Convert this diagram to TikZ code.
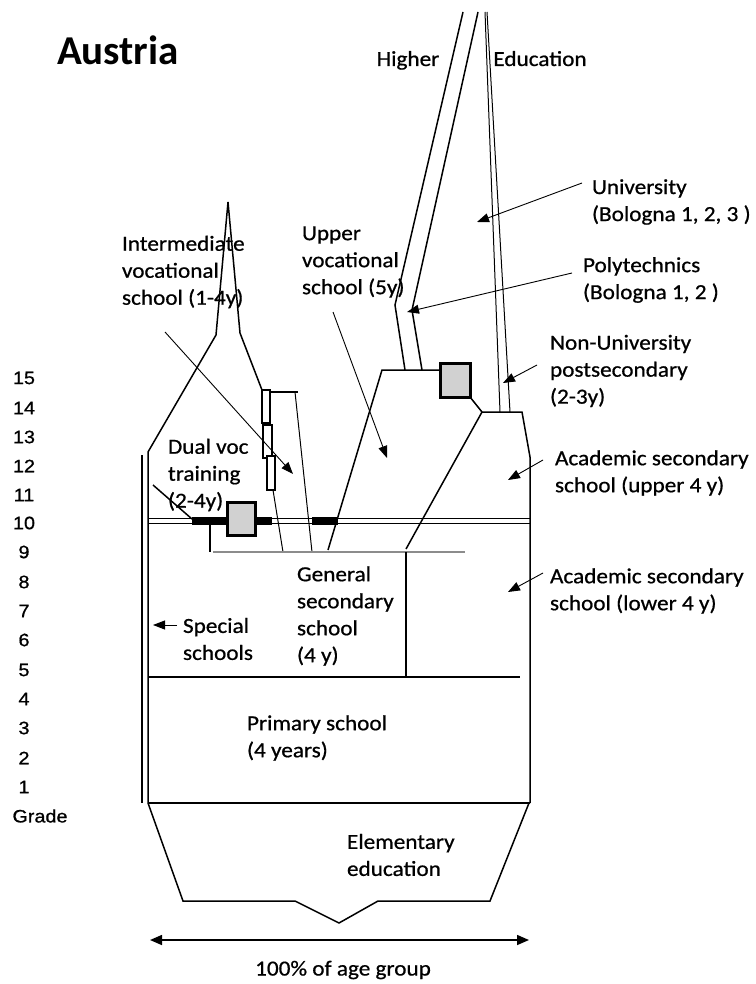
\documentclass[tikz,border=0pt]{standalone}
\usepackage{fontspec}
\setmainfont{Carlito}[FakeStretch=1.08,FakeBold=0.7]
\newfontfamily\titlefont{Carlito}
\newfontfamily\gradefont{Liberation Sans}[FakeStretch=1.1,FakeBold=0.8]
\usetikzlibrary{arrows.meta,positioning}

\begin{document}
\begin{tikzpicture}[x=1pt,y=-1pt,line join=miter]
	\tikzstyle{every node}=[inner sep=0pt,outer sep=0pt]
	\tikzstyle{lbl}=[align=left,anchor=west,font=\fontsize{21.5}{27}\selectfont]
	\tikzstyle{grade}=[font=\gradefont\fontsize{18}{20}\selectfont]
	\tikzstyle{outline}=[line width=1.5pt]
	\tikzstyle{thinline}=[line width=1pt]
	\tikzstyle{pointer}=[line width=0.9pt,-{Triangle[length=12pt,width=9pt]}]
	\tikzstyle{greybox}=[line width=3pt,fill=black!18]
	\tikzstyle{slot}=[line width=2.4pt,fill=white]

	\useasboundingbox (0,0) rectangle (755,984);

	% grades
	\node[grade] (g15) at (24,378) {15};
	\node[grade] (g14) at (24,408) {14};
	\node[grade] (g13) at (24,437) {13};
	\node[grade] (g12) at (24,466) {12};
	\node[grade] (g11) at (24,495) {11};
	\node[grade] (g10) at (24,523) {10};
	\node[grade] (g9) at (24,552) {9};
	\node[grade] (g8) at (24,582) {8};
	\node[grade] (g7) at (24,611) {7};
	\node[grade] (g6) at (24,640) {6};
	\node[grade] (g5) at (24,670) {5};
	\node[grade] (g4) at (24,699) {4};
	\node[grade] (g3) at (24,728) {3};
	\node[grade] (g2) at (24,758) {2};
	\node[grade] (g1) at (24,787) {1};
	\node[grade] (grade) at (40,816) {Grade};

	% outline
	\draw[outline] (142,455) -- (142,803);
	\draw[outline] (148,803) -- (148,452) -- (216,335) -- (228,202) -- (240,333) -- (262,390);
	\draw[outline] (270,392) -- (298,392);
	\draw[thinline] (295,392) -- (312,552);
	\draw[thinline] (273,490) -- (283,552);
	\draw[slot] (262,390) rectangle (270,423);
	\draw[slot] (263,425) rectangle (272,458);
	\draw[slot] (267,456) rectangle (275,490);

	\draw[thinline] (148,518) -- (530,518);
	\draw[thinline] (148,523) -- (530,523);
	\fill (192,516.5) rectangle (227,524.5);
	\fill (255,516.5) rectangle (272,524.5);
	\fill (312,516.5) rectangle (338,524.5);
	\draw[outline] (153,485) -- (192,519);
	\draw[greybox] (227,502) rectangle (255,535);
	\draw[outline] (210,522) -- (210,552);
	\draw[line width=2.5pt,black!45] (213,552) -- (465,552);

	\draw[outline] (328,550) -- (382,370) -- (440,370);
	\draw[outline] (470,397) -- (482,412) -- (522,412) -- (530,457) -- (530,803);
	\draw[outline] (482,412) -- (406,549);
	\draw[outline] (406,552) -- (406,677);
	\draw[outline] (148,677) -- (520,677);
	\draw[outline] (148,803) -- (530,803);
	\draw[outline] (148,803) -- (183,901) -- (295,901) -- (339,923) -- (378,901) -- (490,901) -- (529,803);

	\draw[outline] (463,12) -- (395,305) -- (405,370);
	\draw[outline] (478,12) -- (412,310) -- (422,370);
	\draw[thinline] (485,12) -- (500,412);
	\draw[thinline] (487,12) -- (510,412);
	\draw[greybox] (440,363) rectangle (470,397);

	% labels
	\node[anchor=base west,font=\titlefont\bfseries\fontsize{41}{45}\selectfont] (austria) at (57,65) {Austria};
	\node[lbl,anchor=base] (higher) at (408,66) {Higher};
	\node[lbl,anchor=base] (education) at (540,66) {Education};
	\node[lbl] (intvoc) at (122,272) {Intermediate\\vocational\\school (1-4y)};
	\node[lbl] (uppvoc) at (302,262) {Upper\\vocational\\school (5y)};
	\node[lbl] (uni) at (592,202) {University\\(Bologna 1, 2, 3 )};
	\node[lbl] (poly) at (583,280) {Polytechnics\\(Bologna 1, 2 )};
	\node[lbl] (nonuni) at (550,371) {Non-University\\postsecondary\\(2-3y)};
	\node[lbl] (acadup) at (555,473) {Academic secondary\\school (upper 4 y)};
	\node[lbl] (acadlow) at (550,591) {Academic secondary\\school (lower 4 y)};
	\node[lbl] (dual) at (168,475) {Dual voc\\training\\(2-4y)};
	\node[lbl] (special) at (183,639) {Special\\schools};
	\node[lbl] (gensec) at (297,616) {General\\secondary\\school\\(4 y)};
	\node[lbl] (primary) at (247,738) {Primary school\\(4 years)};
	\node[lbl] (elem) at (347,855) {Elementary\\education};
	\node[lbl,anchor=center] (age) at (343,970) {100\% of age group};

	% pointers
	\coordinate (intvocS) at (165,332);
	\coordinate (intvocT) at (293,474);
	\coordinate (uppvocS) at (333,312);
	\coordinate (uppvocT) at (387,458);
	\coordinate (uniS) at (582,183);
	\coordinate (uniT) at (477,222);
	\coordinate (polyS) at (572,273);
	\coordinate (polyT) at (407,312);
	\coordinate (nonuniS) at (537,365);
	\coordinate (nonuniT) at (503,383);
	\coordinate (acadupS) at (543,460);
	\coordinate (acadupT) at (508,480);
	\coordinate (acadlowS) at (543,573);
	\coordinate (acadlowT) at (508,592);
	\coordinate (specialS) at (177,625);
	\coordinate (specialT) at (153,625);
	\coordinate (ageL) at (150,940);
	\coordinate (ageR) at (529,940);

	\draw[pointer] (intvocS) -- (intvocT);
	\draw[pointer] (uppvocS) -- (uppvocT);
	\draw[pointer] (uniS) -- (uniT);
	\draw[pointer] (polyS) -- (polyT);
	\draw[pointer] (nonuniS) -- (nonuniT);
	\draw[pointer] (acadupS) -- (acadupT);
	\draw[pointer] (acadlowS) -- (acadlowT);
	\draw[pointer] (specialS) -- (specialT);
	\draw[line width=1.5pt,{Triangle[length=12pt,width=10pt]}-{Triangle[length=12pt,width=10pt]}] (ageL) -- (ageR);
\end{tikzpicture}
\end{document}
